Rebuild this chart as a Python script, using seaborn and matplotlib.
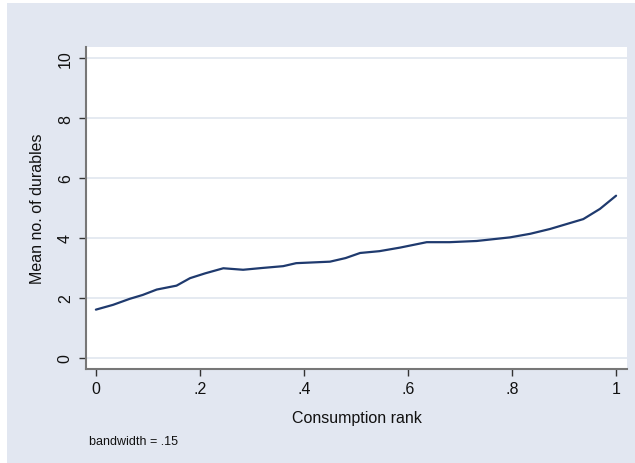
import matplotlib
matplotlib.use('Agg')
import matplotlib.pyplot as plt
import seaborn as sns
import pandas as pd
from matplotlib.patches import Rectangle

# values
rank = [0.000, 0.033, 0.065, 0.090, 0.117, 0.155, 0.181, 0.210, 0.245, 0.283,
        0.320, 0.360, 0.385, 0.450, 0.480, 0.508, 0.545, 0.585, 0.636, 0.680,
        0.732, 0.796, 0.835, 0.873, 0.937, 0.969, 1.000]
mean_durables = [1.61, 1.77, 1.97, 2.10, 2.28, 2.41, 2.66, 2.82, 2.99, 2.94,
                 3.00, 3.06, 3.16, 3.21, 3.33, 3.50, 3.56, 3.68, 3.86, 3.86,
                 3.90, 4.02, 4.14, 4.30, 4.63, 4.97, 5.41]
xticks = [0, 0.2, 0.4, 0.6, 0.8, 1.0]
xtick_labels = ['0', '.2', '.4', '.6', '.8', '1']
yticks = [0, 2, 4, 6, 8, 10]

df = pd.DataFrame({'rank': rank, 'mean': mean_durables})

sns.set_style('white')
plt.rcParams['font.family'] = ['Liberation Sans', 'DejaVu Sans']

bg = '#e2e7f1'
fig = plt.figure(figsize=(6.35, 4.64), dpi=100, facecolor='white')
fig.patches.append(Rectangle((7 / 635, 0), 1, 1 - 4 / 464, transform=fig.transFigure,
                             facecolor=bg, edgecolor='none', zorder=-10))
ax = fig.add_axes([86 / 635, 94 / 464, 541 / 635, 322 / 464])
ax.set_facecolor('white')

for y in yticks:
    ax.axhline(y, color='#e3e8f0', lw=1.3, zorder=1)

sns.lineplot(data=df, x='rank', y='mean', ax=ax, color='#1f3a6e', lw=1.6, zorder=3)

ax.set_xlim(-0.019, 1.021)
ax.set_ylim(-0.37, 10.37)
ax.set_xticks(xticks)
ax.set_xticklabels(xtick_labels)
ax.set_yticks(yticks)
ax.set_yticklabels([str(v) for v in yticks], rotation=90, va='center')
ax.tick_params(axis='both', direction='out', length=5, width=1, color='#333333',
               labelsize=11.5, labelcolor='#111111')
ax.tick_params(axis='y', pad=4.5)
ax.tick_params(axis='x', pad=4)
ax.tick_params(left=True, bottom=True)

for s in ['top', 'right']:
    ax.spines[s].set_visible(False)
for s in ['left', 'bottom']:
    ax.spines[s].set_color('#777777')
    ax.spines[s].set_linewidth(1.5)

ax.set_xlabel('Consumption rank', fontsize=11.5, color='#111111')
ax.set_ylabel('Mean no. of durables', fontsize=11.5, color='#111111')
ax.xaxis.set_label_coords(0.5, -0.128)
ax.yaxis.set_label_coords(-0.076, 0.5)

fig.text(89 / 635, 1 - 442 / 464, 'bandwidth = .15', fontsize=9, color='#111111',
         ha='left', va='center')

fig.savefig('out.png', dpi=100, facecolor=fig.get_facecolor())
